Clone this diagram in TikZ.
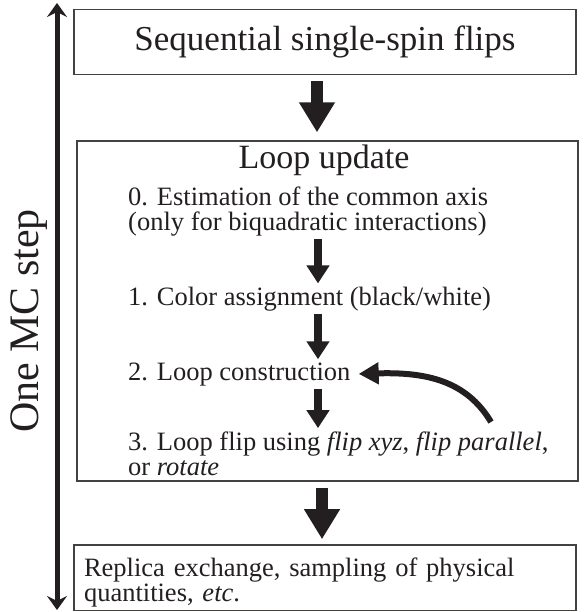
\documentclass[tikz,border=0pt]{standalone}
\usepackage{fontspec}
\setmainfont{Liberation Serif}
\usepackage{xcolor}
\usepackage{tikz}
\usetikzlibrary{arrows.meta}
\definecolor{ink}{HTML}{231F20}

\begin{document}
\begin{tikzpicture}[x=1pt, y=-1pt,
  box/.style={rectangle, draw=ink!85, line width=1.3pt, minimum width=502pt, text=ink},
  item/.style={anchor=base west, align=left, inner sep=3pt, text=ink, font=\fontsize{26.5}{25}\selectfont},
  bigarrow/.style={-{Triangle[length=30pt 0 0,width=34pt 0 0]}, line width=12pt, ink},
  smallarrow/.style={-{Triangle[length=18pt 0 0,width=22pt 0 0]}, line width=8pt, ink}]
\useasboundingbox (0,0) rectangle (584,612);

% the three stages of one step
\node (seq) [box, minimum height=65pt, font=\fontsize{35}{40}\selectfont] at (325,42) {Sequential single-spin flips};
\node (loop) [box, minimum width=501pt, minimum height=340pt] at (327.5,311) {};
\node (looptitle) [anchor=base, text=ink, font=\fontsize{34}{40}\selectfont] at (324,169) {Loop update};
\node (replica) [box, minimum height=65pt, text width=482pt, align=left, font=\fontsize{26.5}{25}\selectfont] at (325,577.5) {\rule{0pt}{28pt}Replica exchange, sampling of physical\\quantities, \textit{etc}.};

% steps of the loop update (base is the last line)
\node (step0) [item] at (125,230) {0. Estimation of the common axis\\(only for biquadratic interactions)};
\node (step1) [item] at (125,305) {1. Color assignment (black/white)};
\node (step2) [item] at (125,380) {2. Loop construction};
\node (step3) [item] at (125,475) {3. Loop flip using \textit{flip xyz}, \textit{flip parallel},\\or \textit{rotate}};

\coordinate (upper) at (317,0);
\coordinate (inner) at (318,0);
\coordinate (lower) at (322,0);
\coordinate (back) at (491,422);

\draw[bigarrow, shorten <=6pt, shorten >=8pt] (seq.south -| upper) -- (loop.north -| upper);
\draw[smallarrow] (step0.south -| inner) -- (step1.north -| inner);
\draw[smallarrow] (step1.south -| inner) -- (step2.north -| inner);
\draw[smallarrow] (step2.south -| inner) -- (step3.north -| inner);
\draw[-{Triangle[length=20pt 0 0,width=21pt 0 0]}, line width=6pt, ink, shorten >=5pt] (back) .. controls (466,380) and (425,372) .. (step2.east);
\draw[bigarrow, shorten <=6pt, shorten >=5pt] (loop.south -| lower) -- (replica.north -| lower);

% one MC step, both ways
\coordinate (mctop) at (57,3);
\coordinate (mcbot) at (57,610);
\draw[{Stealth[length=14pt 0 0,width=20pt 0 0,inset=5pt]}-{Stealth[length=14pt 0 0,width=20pt 0 0,inset=5pt]}, line width=5pt, ink] (mctop) -- (mcbot);
\node (mclabel) [rotate=90, text=ink, font=\fontsize{42}{48}\selectfont] at (29,321) {One MC step};
\end{tikzpicture}
\end{document}
